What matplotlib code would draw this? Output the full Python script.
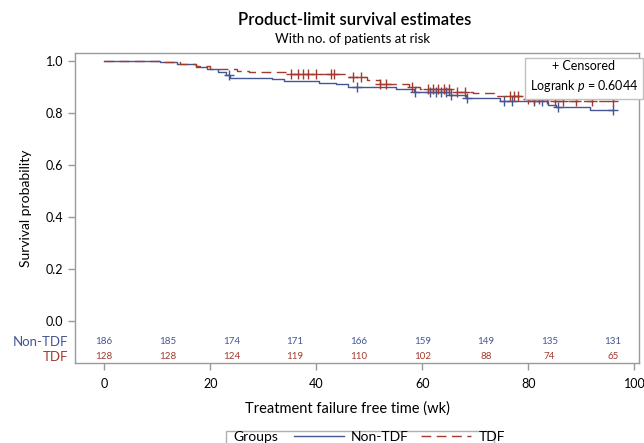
import numpy as np
import matplotlib
matplotlib.use("Agg")
import matplotlib.pyplot as plt
from matplotlib.lines import Line2D
from matplotlib.patches import Rectangle

plt.rcParams["font.family"] = ["Lato", "DejaVu Sans"]
plt.rcParams["mathtext.fontset"] = "custom"
plt.rcParams["mathtext.it"] = "Lato:italic"
plt.rcParams["mathtext.rm"] = "Lato"

# ---------------------------------------------------
# Kaplan-Meier step data (time in weeks, survival after step)
# ---------------------------------------------------
non_tdf_times = [0, 10.5, 13.7, 17.4, 19.3, 21.4, 23.0, 23.8, 31.7, 34.0, 40.5,
                 43.7, 46.0, 55.0, 58.4, 65.0, 68.3, 74.7, 83.7, 85.2, 91.6]
non_tdf_surv = [1.0, 0.995, 0.989, 0.978, 0.969, 0.957, 0.946, 0.936, 0.930, 0.924, 0.917,
                0.910, 0.902, 0.893, 0.882, 0.869, 0.857, 0.845, 0.832, 0.822, 0.812]
non_tdf_censored = [23.6, 47.7, 58.6, 61.5, 62.5, 63.5, 64.5, 65.5, 68.5,
                    75.5, 77.0, 81.0, 82.5, 85.5, 96.0]

tdf_times = [0, 10.9, 14.3, 17.4, 19.9, 25.0, 27.4, 35.0, 45.8, 49.5, 52.0,
             57.4, 59.5, 65.5, 69.6, 73.5, 79.4, 84.5]
tdf_surv = [1.0, 0.996, 0.990, 0.980, 0.968, 0.962, 0.956, 0.949, 0.938, 0.926, 0.912,
            0.900, 0.891, 0.882, 0.876, 0.866, 0.855, 0.848]
tdf_censored = [35.2, 36.5, 37.5, 38.5, 40.0, 42.8, 43.4, 47.0, 48.5, 52.0, 53.2,
                58.0, 61.0, 62.0, 63.0, 64.0, 65.0, 66.5, 68.0, 76.6, 77.2, 78.0,
                80.0, 81.0, 82.0, 83.5, 85.0, 86.5, 89.0, 92.0, 96.0]
end_time = 96.0

# numbers at risk
risk_times = [0, 12, 24, 36, 48, 60, 72, 84, 96]
risk_non_tdf = [186, 185, 174, 171, 166, 159, 149, 135, 131]
risk_tdf = [128, 128, 124, 119, 110, 102, 88, 74, 65]

logrank_p = 0.6044

blue = "#445694"
red = "#A23A2E"
frame = "#9a9a9a"


def surv_at(times, surv, t):
    idx = np.searchsorted(times, t, side="right") - 1
    return np.asarray(surv)[idx]


fig = plt.figure(figsize=(6.44, 4.43), dpi=100)
ax = fig.add_axes([0.1165, 0.1806, 0.876, 0.6998])

# survival curves
ax.step(non_tdf_times + [end_time], non_tdf_surv + [non_tdf_surv[-1]], where="post",
        color=blue, lw=1.0)
ax.step(tdf_times + [end_time], tdf_surv + [tdf_surv[-1]], where="post",
        color=red, lw=1.0, linestyle=(0, (7, 4)))

# censored marks
ax.plot(non_tdf_censored, surv_at(non_tdf_times, non_tdf_surv, non_tdf_censored),
        "+", color=blue, ms=7, mew=1.0)
ax.plot(tdf_censored, surv_at(tdf_times, tdf_surv, tdf_censored),
        "+", color=red, ms=7, mew=1.0)

ax.set_xlim(-5.5, 100.9)
ax.set_ylim(-0.162, 1.031)
ax.set_xticks([0, 20, 40, 60, 80, 100])
ax.set_yticks([0.0, 0.2, 0.4, 0.6, 0.8, 1.0])
ax.yaxis.set_major_formatter(matplotlib.ticker.FormatStrFormatter("%.1f"))
ax.tick_params(colors=frame, labelcolor="black", labelsize=9, length=5, width=1)
ax.tick_params(axis="x", pad=6)
for s in ax.spines.values():
    s.set_color(frame)
    s.set_linewidth(1.0)

ax.set_ylabel("Survival probability", fontsize=10, labelpad=10)
fig.text(347 / 644, 1 - 409 / 443, "Treatment failure free time (wk)", ha="center",
         va="center", fontsize=10.5)

# at-risk table inside the frame
row_non_tdf = -0.08
row_tdf = -0.138
for t, n in zip(risk_times, risk_non_tdf):
    ax.text(t, row_non_tdf, str(n), color=blue, fontsize=7, ha="center", va="center")
for t, n in zip(risk_times, risk_tdf):
    ax.text(t, row_tdf, str(n), color=red, fontsize=7, ha="center", va="center")
ax.text(-0.012, row_non_tdf, "Non-TDF", color=blue, fontsize=9.5, ha="right", va="center",
        transform=ax.get_yaxis_transform())
ax.text(-0.012, row_tdf, "TDF", color=red, fontsize=9.5, ha="right", va="center",
        transform=ax.get_yaxis_transform())

# inset box with censor key and logrank p
ax.text(0.902, 0.922, "+ Censored\nLogrank $p$ = %.4f" % logrank_p, transform=ax.transAxes,
        ha="center", va="center", fontsize=9, linespacing=1.5,
        bbox=dict(boxstyle="square,pad=0.35", fc="white", ec="#c0c0c0", lw=1.0))

# titles
fig.text(0.551, 0.955, "Product-limit survival estimates", ha="center", va="center",
         fontsize=12, fontweight="semibold")
fig.text(0.548, 0.912, "With no. of patients at risk", ha="center", va="center", fontsize=9.5)

# group legend at the bottom
fig.patches.append(Rectangle((226 / 644, -0.02), (494 - 226) / 644, (443 - 431) / 443 + 0.02,
                             transform=fig.transFigure, fc="white", ec="#b0b0b0", lw=1.0))
fig.text(233 / 644, 1 - 437 / 443, "Groups", ha="left", va="center", fontsize=10)
handles = [Line2D([], [], color=blue, lw=1.0),
           Line2D([], [], color=red, lw=1.0, linestyle=(0, (7, 4)))]
fig.legend(handles, ["Non-TDF", "TDF"], loc="center left", ncol=2, frameon=False,
           bbox_to_anchor=(294 / 644, 1 - 437 / 443), fontsize=10, handlelength=3.6,
           handletextpad=0.5, columnspacing=0.9, borderaxespad=0, borderpad=0)

fig.savefig("out.png", dpi=100)
